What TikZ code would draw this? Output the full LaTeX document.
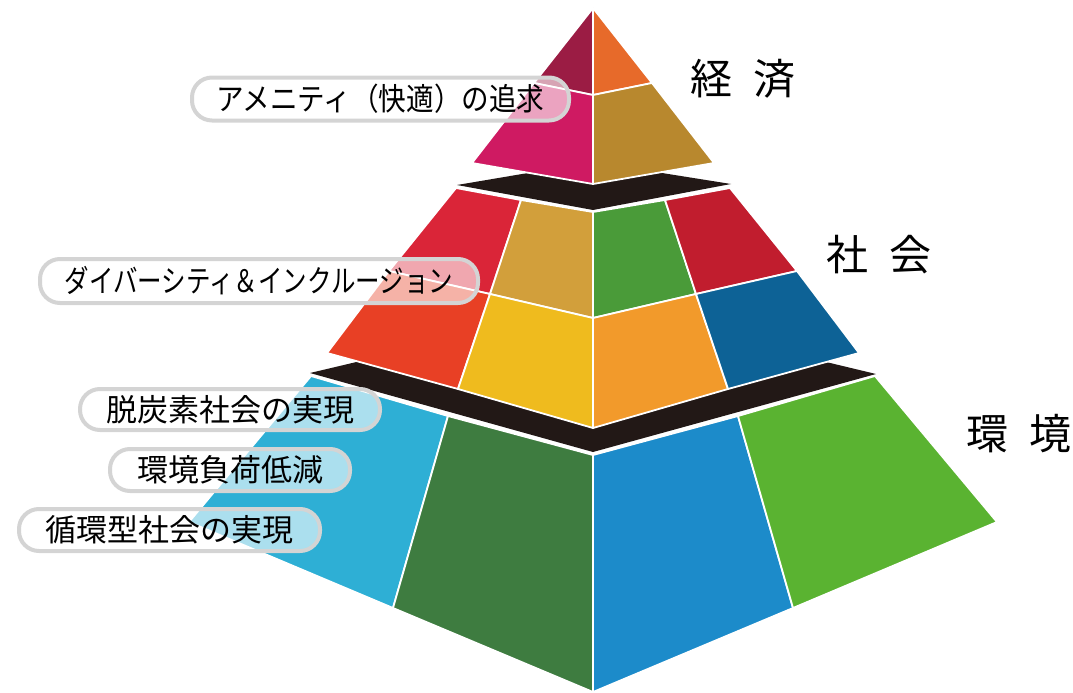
\documentclass[tikz,border=0pt]{standalone}
\usepackage{fontspec}
\usepackage{graphicx}
\newfontfamily\jp{Noto Sans CJK JP}
\definecolor{cMaroon}{HTML}{9B1C44}
\definecolor{cOrgTop}{HTML}{E76A2A}
\definecolor{cMagenta}{HTML}{CF1A62}
\definecolor{cGoldTop}{HTML}{B8882E}
\definecolor{cRed}{HTML}{DA2538}
\definecolor{cGold}{HTML}{D29F3B}
\definecolor{cGreenM}{HTML}{4A9B39}
\definecolor{cDarkRed}{HTML}{C11D2E}
\definecolor{cOrgRed}{HTML}{E84025}
\definecolor{cYellow}{HTML}{EFBB1E}
\definecolor{cOrange}{HTML}{F29A2B}
\definecolor{cDarkBlue}{HTML}{0D6296}
\definecolor{cLightBlue}{HTML}{2EAFD5}
\definecolor{cDarkGreen}{HTML}{3E7C40}
\definecolor{cBlue}{HTML}{1C8BCA}
\definecolor{cGreen}{HTML}{5AB331}
\definecolor{cBand}{HTML}{221816}
\definecolor{labgray}{HTML}{D4D4D4}
\tikzset{
  face/.style={draw=white, line width=1.8pt, line join=round},
  band/.style={fill=cBand},
  lab/.style={draw=labgray, line width=4pt, fill=white, fill opacity=0.6, draw opacity=1, text opacity=1,
    rounded corners=20pt, inner sep=0pt, text=black, font=\jp\fontsize{31}{31}\selectfont},
  cat/.style={inner sep=0pt, text=black, font=\jp\fontsize{42}{42}\selectfont}
}
\begin{document}
\begin{tikzpicture}[x=1pt,y=-1pt]
\useasboundingbox (0,0) rectangle (1073,693);
% ---- black band under middle tier
\fill[band] (310,373) -- (593,306) -- (876,374) -- (593,452) -- cycle;
% ---- bottom tier (environment)
\filldraw[face, fill=cLightBlue] (311,376) -- (448,416) -- (393,608) -- (189,522) -- cycle;
\filldraw[face, fill=cDarkGreen] (448,416) -- (593,455) -- (593,692) -- (393,608) -- cycle;
\filldraw[face, fill=cBlue] (593,455) -- (738,416) -- (793,608) -- (593,692) -- cycle;
\filldraw[face, fill=cGreen] (738,416) -- (875,376) -- (997,522) -- (793,608) -- cycle;
% ---- middle tier (society)
\filldraw[face, fill=cRed] (456,188) -- (521,200) -- (490,294) -- (389,271) -- cycle;
\filldraw[face, fill=cGold] (521,200) -- (593,212) -- (593,318) -- (490,294) -- cycle;
\filldraw[face, fill=cGreenM] (593,212) -- (665,200) -- (696,294) -- (593,318) -- cycle;
\filldraw[face, fill=cDarkRed] (665,200) -- (730,188) -- (797,271) -- (696,294) -- cycle;
\filldraw[face, fill=cOrgRed] (389,271) -- (490,294) -- (458,389) -- (327,353) -- cycle;
\filldraw[face, fill=cYellow] (490,294) -- (593,318) -- (593,428) -- (458,389) -- cycle;
\filldraw[face, fill=cOrange] (593,318) -- (696,294) -- (728,389) -- (593,428) -- cycle;
\filldraw[face, fill=cDarkBlue] (696,294) -- (797,271) -- (859,353) -- (728,389) -- cycle;
% ---- black band under top pyramid
\fill[band] (457,185) -- (593,162) -- (731,184) -- (593,210) -- cycle;
% ---- top pyramid (economy)
\filldraw[face, fill=cMaroon] (593,8) -- (534,83) -- (593,95) -- cycle;
\filldraw[face, fill=cOrgTop] (593,8) -- (593,95) -- (652,83) -- cycle;
\filldraw[face, fill=cMagenta] (534,83) -- (472,163) -- (593,184) -- (593,95) -- cycle;
\filldraw[face, fill=cGoldTop] (593,95) -- (593,184) -- (714,163) -- (652,83) -- cycle;
% ---- category titles
\node[cat] (keizai) at (742.5,79) {経\hspace{0.5em}済};
\node[cat] (shakai) at (878.5,255) {社\hspace{0.5em}会};
\node[cat] (kankyo) at (1019,434) {環\hspace{0.5em}境};
% ---- labels
\node[lab, minimum width=377pt, minimum height=43pt] (amenity) at (380.5,99)
  {\scalebox{0.89}[1]{アメニティ（快適）の追求}};
\node[lab, minimum width=438pt, minimum height=44pt] (diversity) at (259,281)
  {\scalebox{0.79}[1]{ダイバーシティ＆インクルージョン}};
\node[lab, minimum width=300pt, minimum height=41pt] (datsutanso) at (230,409.5)
  {脱炭素社会の実現};
\node[lab, minimum width=240pt, minimum height=42pt] (kankyofuka) at (230,470)
  {環境負荷低減};
\node[lab, minimum width=301pt, minimum height=42pt] (junkan) at (169.5,530)
  {循環型社会の実現};
\end{tikzpicture}
\end{document}
